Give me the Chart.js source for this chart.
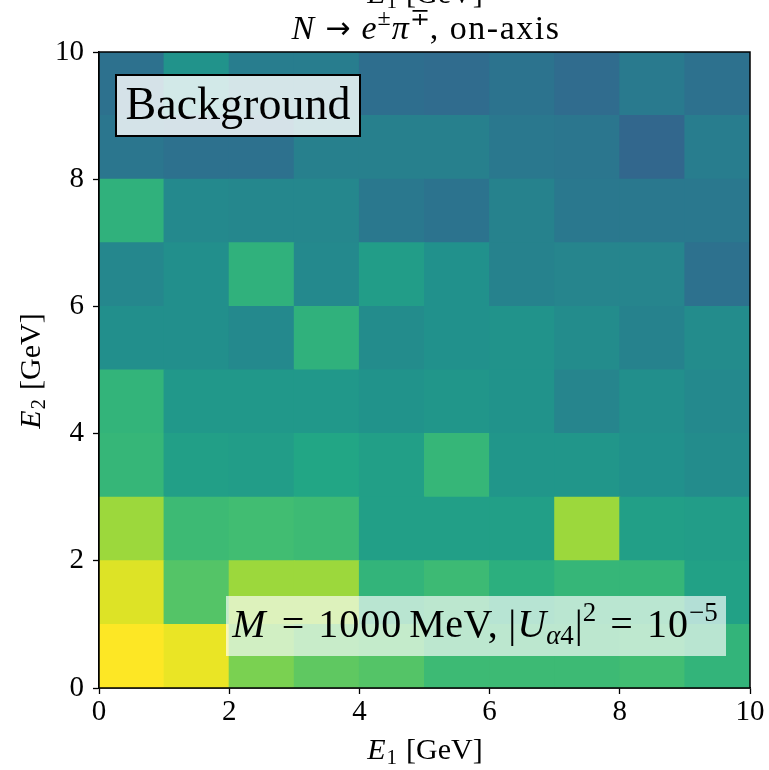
<!DOCTYPE html>
<html>
<head>
<meta charset="utf-8">
<script src="https://cdn.jsdelivr.net/npm/chart.js@4/dist/chart.umd.min.js"></script>
<style>
	html, body { margin: 0; padding: 0; background: #fff; }
	canvas { display: block; }
</style>
</head>
<body>
<canvas id="heat" width="769" height="770"></canvas>
<script>
// Bin edges (GeV) and tick values.
const e1Edges = [ 0, 1, 2, 3, 4, 5, 6, 7, 8, 9, 10 ];
const e2Edges = [ 0, 1, 2, 3, 4, 5, 6, 7, 8, 9, 10 ];
const tickValues = [ 0, 2, 4, 6, 8, 10 ];

// Normalised colour value per cell (0 = min, 1 = max), one array per E2 bin, E1 bins left to right.
const e2Bin0 = [ 1.00, 0.97, 0.80, 0.75, 0.73, 0.68, 0.68, 0.68, 0.69, 0.65 ];
const e2Bin1 = [ 0.95, 0.73, 0.85, 0.85, 0.65, 0.68, 0.63, 0.66, 0.66, 0.57 ];
const e2Bin2 = [ 0.85, 0.68, 0.69, 0.68, 0.56, 0.56, 0.56, 0.85, 0.56, 0.55 ];
const e2Bin3 = [ 0.66, 0.56, 0.55, 0.59, 0.56, 0.66, 0.52, 0.52, 0.50, 0.48 ];
const e2Bin4 = [ 0.65, 0.53, 0.53, 0.53, 0.51, 0.52, 0.51, 0.45, 0.49, 0.47 ];
const e2Bin5 = [ 0.49, 0.49, 0.47, 0.64, 0.48, 0.50, 0.51, 0.48, 0.44, 0.48 ];
const e2Bin6 = [ 0.46, 0.49, 0.64, 0.47, 0.55, 0.50, 0.44, 0.45, 0.45, 0.37 ];
const e2Bin7 = [ 0.64, 0.47, 0.46, 0.46, 0.40, 0.38, 0.44, 0.40, 0.40, 0.40 ];
const e2Bin8 = [ 0.39, 0.37, 0.37, 0.43, 0.43, 0.43, 0.40, 0.39, 0.33, 0.42 ];
const e2Bin9 = [ 0.37, 0.51, 0.42, 0.42, 0.36, 0.35, 0.38, 0.35, 0.41, 0.37 ];
const e2Bins = [ e2Bin0, e2Bin1, e2Bin2, e2Bin3, e2Bin4, e2Bin5, e2Bin6, e2Bin7, e2Bin8, e2Bin9 ];

// Viridis colour map stops.
const viridisStops = [ '#440154', '#482475', '#414487', '#355f8d', '#2a788e', '#21918c', '#22a884', '#44bf70', '#7ad151', '#bddf26', '#fde725' ];

function hexRgb( h ) {
	return [ 1, 3, 5 ].map( ( i ) => parseInt( h.substr( i, 2 ), 16 ) );
}

function viridis( v ) {
	const t = Math.min( 1, Math.max( 0, v ) ) * ( viridisStops.length - 1 );
	const i = Math.min( Math.floor( t ), viridisStops.length - 2 );
	const f = t - i;
	const a = hexRgb( viridisStops[ i ] ), b = hexRgb( viridisStops[ i + 1 ] );
	const c = a.map( ( x, k ) => Math.round( x + ( b[ k ] - x ) * f ) );
	return `rgb(${ c[ 0 ] },${ c[ 1 ] },${ c[ 2 ] })`;
}

const SERIF = "'Liberation Serif', 'DejaVu Serif', serif";
const SYMBOL = "'DejaVu Sans', sans-serif";

// Draw a run of text pieces: { t, it, size, dy, gap, ls, fam }.
function drawRich( ctx, parts, x, y, align ) {
	const setFont = ( p ) => {
		ctx.font = `${ p.it ? 'italic ' : '' }${ p.size }px ${ p.fam || SERIF }`;
		ctx.letterSpacing = `${ p.ls || 0 }px`;
	};
	let total = 0;
	parts.forEach( ( p ) => { setFont( p ); p.w = ctx.measureText( p.t ).width; total += p.w + ( p.gap || 0 ); } );
	let cx = align === 'center' ? x - total / 2 : x;
	ctx.textAlign = 'left';
	ctx.textBaseline = 'alphabetic';
	parts.forEach( ( p ) => {
		setFont( p );
		ctx.fillText( p.t, cx, y + ( p.dy || 0 ) );
		cx += p.w + ( p.gap || 0 );
	} );
	ctx.letterSpacing = '0px';
	return total;
}

function energyLabel( sub ) {
	return [
		{ t: 'E', it: true, size: 30, gap: 1 },
		{ t: sub, size: 21, dy: 5, gap: 9 },
		{ t: '[GeV]', size: 30 },
	];
}

const overlay = {
	id: 'overlay',
	afterDraw( chart ) {
		const ctx = chart.ctx;
		const area = chart.chartArea;
		ctx.save();
		ctx.fillStyle = '#000';

		// frame
		ctx.strokeStyle = '#000';
		ctx.lineWidth = 1.5;
		ctx.strokeRect( area.left, area.top, area.right - area.left, area.bottom - area.top );

		// clipped label of the panel above
		drawRich( ctx, energyLabel( '1' ), 425, 3, 'center' );

		// title
		drawRich( ctx, [
			{ t: 'N', it: true, size: 34, gap: 11 },
			{ t: '\u2192', size: 30, fam: SYMBOL, dy: -1, gap: 11 },
			{ t: 'e', it: true, size: 34, gap: 1 },
			{ t: '\u00b1', size: 24, dy: -14, gap: 1 },
			{ t: '\u03c0', it: true, size: 34, gap: 1 },
			{ t: '\u2213', size: 24, dy: -14 },
			{ t: ', on-axis', size: 34, ls: 1.5 },
		], 426, 39, 'center' );

		// axis titles
		drawRich( ctx, energyLabel( '1' ), 425, 759, 'center' );
		ctx.save();
		ctx.translate( 40, 371 );
		ctx.rotate( -Math.PI / 2 );
		drawRich( ctx, energyLabel( '2' ), 0, 0, 'center' );
		ctx.restore();

		// "Background" box
		ctx.fillStyle = 'rgba(255,255,255,0.8)';
		ctx.fillRect( 116, 75, 244, 61 );
		ctx.lineWidth = 2;
		ctx.strokeRect( 116, 75, 244, 61 );
		ctx.fillStyle = '#000';
		drawRich( ctx, [ { t: 'Background', size: 46 } ], 238, 119, 'center' );

		// parameter box
		ctx.fillStyle = 'rgba(255,255,255,0.66)';
		ctx.fillRect( 226, 596, 500, 60 );
		ctx.fillStyle = '#000';
		drawRich( ctx, [
			{ t: 'M', it: true, size: 40, gap: 16 },
			{ t: '=', size: 40, gap: 14 },
			{ t: '1000', size: 40, ls: 1, gap: 7 },
			{ t: 'MeV,', size: 40, ls: 0.5, gap: 10 },
			{ t: '|', size: 40, gap: 1 },
			{ t: 'U', it: true, size: 40 },
			{ t: '\u03b1', it: true, size: 27, dy: 7 },
			{ t: '4', size: 27, dy: 7, gap: 1 },
			{ t: '|', size: 40 },
			{ t: '2', size: 27, dy: -16, gap: 14 },
			{ t: '=', size: 40, gap: 14 },
			{ t: '10', size: 40, ls: 1 },
			{ t: '\u22125', size: 27, dy: -16 },
		], 475, 637, 'center' );
		ctx.restore();
	},
};

const axisStyle = {
	type: 'linear',
	min: 0,
	max: 10,
	offset: false,
	afterBuildTicks: ( s ) => { s.ticks = tickValues.map( ( v ) => ( { value: v } ) ); },
	grid: { offset: false, drawOnChartArea: false, drawTicks: true, tickLength: 6, tickWidth: 1.3, color: '#000' },
	border: { display: true, color: '#000', width: 1.5 },
};

new Chart( document.getElementById( 'heat' ), {
	type: 'bar',
	data: {
		datasets: e2Bins.map( ( vals, j ) => ( {
			data: vals.map( ( v, i ) => ( { x: ( e1Edges[ i ] + e1Edges[ i + 1 ] ) / 2, y: [ e2Edges[ j ], e2Edges[ j + 1 ] ] } ) ),
			backgroundColor: vals.map( viridis ),
			borderWidth: 0,
			barPercentage: 1,
			categoryPercentage: 1,
			grouped: false,
			inflateAmount: 0.5,
		} ) ),
	},
	options: {
		responsive: false,
		animation: false,
		events: [],
		layout: { padding: { top: 52, right: 19, left: 0, bottom: 0 } },
		scales: {
			x: {
				...axisStyle,
				afterFit: ( s ) => { s.height = 82; },
				ticks: { color: '#000', font: { family: SERIF, size: 29 }, padding: 1, maxRotation: 0 },
			},
			y: {
				...axisStyle,
				afterFit: ( s ) => { s.width = 99; },
				ticks: { color: '#000', font: { family: SERIF, size: 29 }, padding: 9 },
			},
		},
		plugins: { legend: { display: false }, tooltip: { enabled: false } },
	},
	plugins: [ overlay ],
} );
</script>
</body>
</html>
